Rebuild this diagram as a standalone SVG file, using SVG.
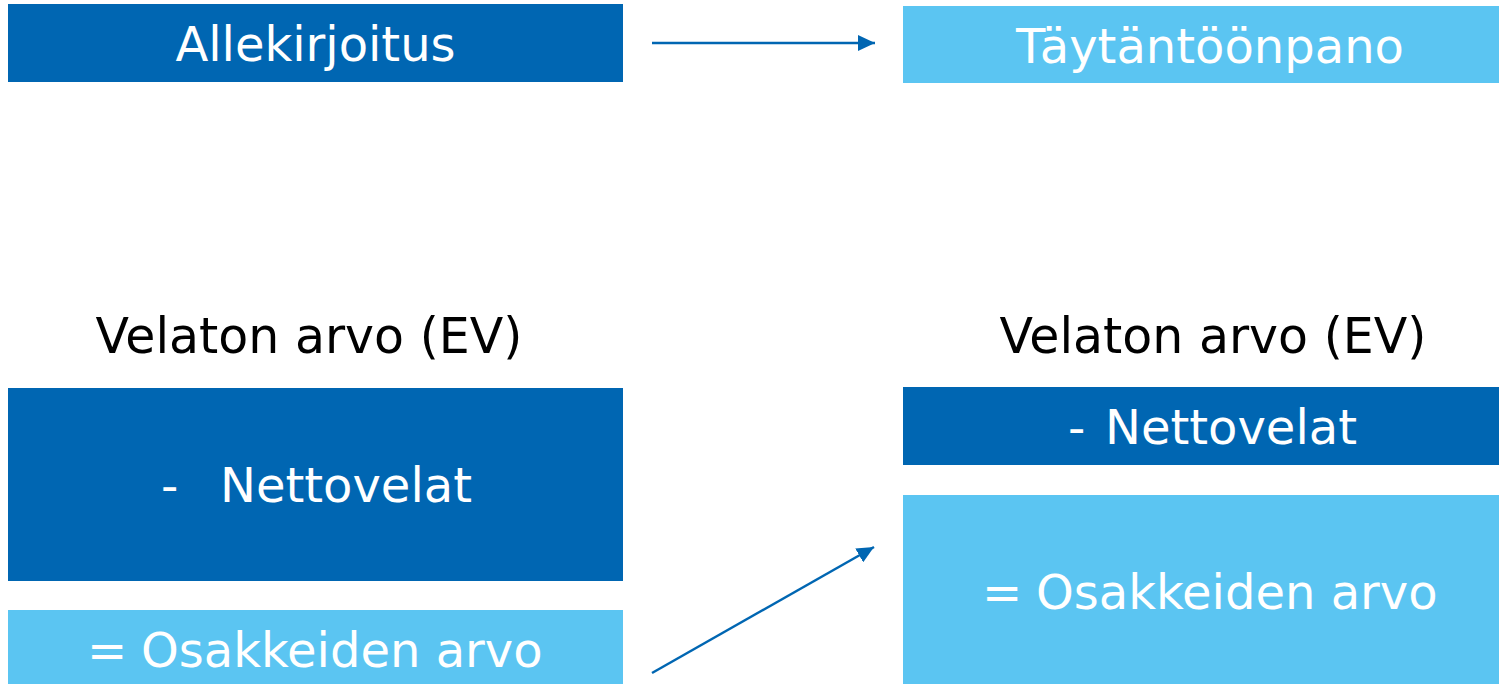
<svg xmlns="http://www.w3.org/2000/svg" width="1499" height="684" viewBox="0 0 1499 684">
  <defs>
    <style>
      .dark { fill: #0066B2; }
      .light { fill: #5BC5F2; }
      .lbl { font-family: "DejaVu Sans", Verdana, sans-serif; font-size: 48px; fill: #FFFFFF; }
      .ttl { font-family: "DejaVu Sans", Verdana, sans-serif; font-size: 49px; fill: #000000; }
      .conn { stroke: #0066B2; stroke-width: 2.5; fill: none; }
    </style>
    <marker id="arr" markerUnits="userSpaceOnUse" markerWidth="17" markerHeight="16" refX="17" refY="8" orient="auto">
      <path d="M0,0 L17,8 L0,16 Z" fill="#0066B2"/>
    </marker>
  </defs>
  <rect width="1499" height="684" fill="#FFFFFF"/>

  <g id="allekirjoitus">
    <rect class="dark" x="8" y="4" width="615" height="78"/>
    <text class="lbl" x="315.5" y="61" text-anchor="middle">Allekirjoitus</text>
  </g>

  <g id="taytantoonpano">
    <rect class="light" x="903" y="6" width="596" height="77"/>
    <text class="lbl" x="1210" y="63" text-anchor="middle">Täytäntöönpano</text>
  </g>

  <g id="title-left">
    <text class="ttl" x="309" y="353" text-anchor="middle">Velaton arvo (EV)</text>
  </g>

  <g id="nettovelat-left">
    <rect class="dark" x="8" y="388" width="615" height="193"/>
    <text class="lbl" y="502"><tspan x="161">-</tspan><tspan x="220">Nettovelat</tspan></text>
  </g>

  <g id="osakkeiden-left">
    <rect class="light" x="8" y="610" width="615" height="74"/>
    <text class="lbl" y="667"><tspan x="87">=</tspan><tspan x="141">Osakkeiden arvo</tspan></text>
  </g>

  <g id="title-right">
    <text class="ttl" x="1213" y="353" text-anchor="middle">Velaton arvo (EV)</text>
  </g>

  <g id="nettovelat-right">
    <rect class="dark" x="903" y="387" width="596" height="78"/>
    <text class="lbl" y="444"><tspan x="1068">-</tspan><tspan x="1105">Nettovelat</tspan></text>
  </g>

  <g id="osakkeiden-right">
    <rect class="light" x="903" y="495" width="596" height="189"/>
    <text class="lbl" y="609"><tspan x="982">=</tspan><tspan x="1036">Osakkeiden arvo</tspan></text>
  </g>

  <g id="connectors">
    <line class="conn" x1="652" y1="43" x2="875" y2="43" marker-end="url(#arr)"/>
    <line class="conn" x1="652" y1="673" x2="874" y2="547" marker-end="url(#arr)"/>
  </g>
</svg>
